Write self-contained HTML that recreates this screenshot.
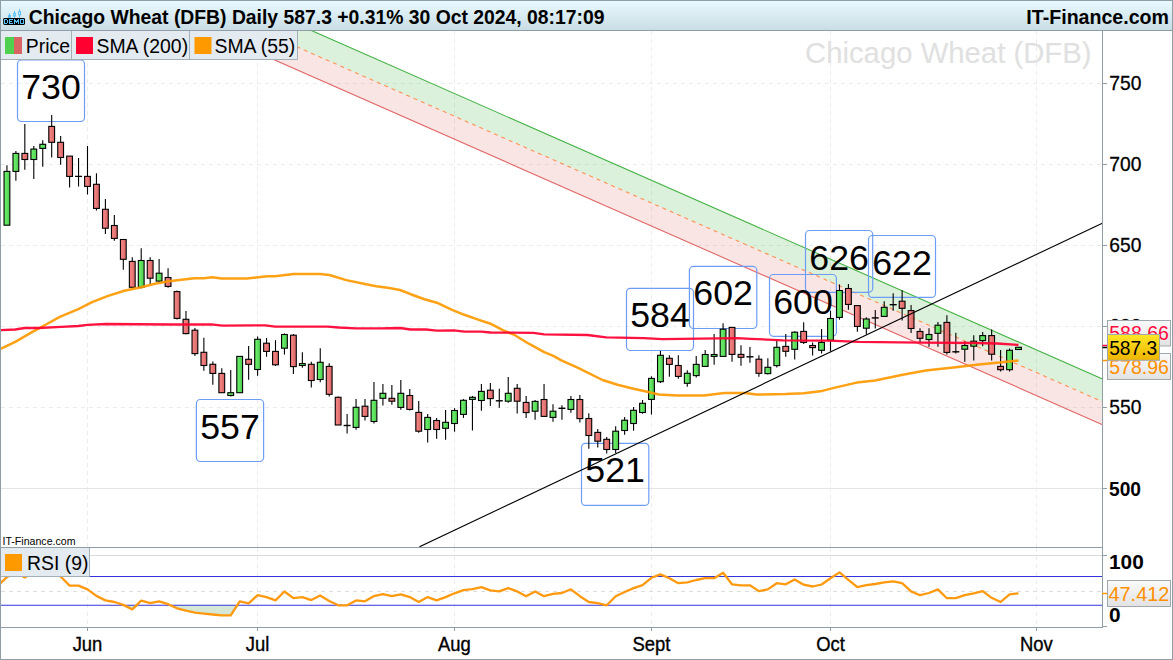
<!DOCTYPE html>
<html><head><meta charset="utf-8"><style>
html,body{margin:0;padding:0;background:#fff;width:1173px;height:660px;overflow:hidden}
svg{display:block}
text{font-family:"Liberation Sans",sans-serif}
</style></head><body>
<svg width="1173" height="660" viewBox="0 0 1173 660">
<defs>
<linearGradient id="hdr" x1="0" y1="0" x2="0" y2="1"><stop offset="0" stop-color="#e9fbff"/><stop offset="1" stop-color="#c9dce4"/></linearGradient>
<linearGradient id="gc" x1="0" y1="0" x2="1" y2="0"><stop offset="0" stop-color="#5ce05c"/><stop offset="0.3" stop-color="#68ec68"/><stop offset="1" stop-color="#4cc94c"/></linearGradient>
<linearGradient id="rc" x1="0" y1="0" x2="1" y2="0"><stop offset="0" stop-color="#e87272"/><stop offset="0.3" stop-color="#f08282"/><stop offset="1" stop-color="#d96262"/></linearGradient>
<linearGradient id="yel" x1="0" y1="0" x2="0" y2="1"><stop offset="0" stop-color="#ffe626"/><stop offset="1" stop-color="#eeb400"/></linearGradient>
<linearGradient id="gry" x1="0" y1="0" x2="0" y2="1"><stop offset="0" stop-color="#fafafa"/><stop offset="1" stop-color="#e2e2e2"/></linearGradient>
<clipPath id="cp"><rect x="1" y="31" width="1101.5" height="516"/></clipPath>
<clipPath id="cr"><rect x="1" y="548" width="1101.5" height="79"/></clipPath>
</defs>
<rect x="0" y="0" width="1173" height="660" fill="#fff"/>

<g stroke="#ececec" stroke-width="1" stroke-dasharray="4,4" fill="none">
<line x1="1" y1="83.5" x2="1102" y2="83.5"/>
<line x1="1" y1="164.5" x2="1102" y2="164.5"/>
<line x1="1" y1="245.5" x2="1102" y2="245.5"/>
<line x1="1" y1="326.5" x2="1102" y2="326.5"/>
<line x1="1" y1="407.5" x2="1102" y2="407.5"/>
<line x1="87.5" y1="31" x2="87.5" y2="547"/>
<line x1="87.5" y1="548" x2="87.5" y2="627"/>
<line x1="257.5" y1="31" x2="257.5" y2="547"/>
<line x1="257.5" y1="548" x2="257.5" y2="627"/>
<line x1="454.5" y1="31" x2="454.5" y2="547"/>
<line x1="454.5" y1="548" x2="454.5" y2="627"/>
<line x1="651.5" y1="31" x2="651.5" y2="547"/>
<line x1="651.5" y1="548" x2="651.5" y2="627"/>
<line x1="830.5" y1="31" x2="830.5" y2="547"/>
<line x1="830.5" y1="548" x2="830.5" y2="627"/>
<line x1="1036.5" y1="31" x2="1036.5" y2="547"/>
<line x1="1036.5" y1="548" x2="1036.5" y2="627"/>
</g>
<line x1="1" y1="488.5" x2="1102" y2="488.5" stroke="#e4e4e4" stroke-width="1"/>
<text x="805" y="63" font-size="29.3" fill="#e0e0e0">Chicago Wheat (DFB)</text>
<g clip-path="url(#cp)">
<polygon points="150,-40.6 1102.5,379.0 1102.5,401.7 150,-17.9" fill="#44b344" fill-opacity="0.19"/>
<polygon points="150,-17.9 1102.5,401.7 1102.5,424.7 150,5.1" fill="#e06060" fill-opacity="0.16"/>
<line x1="150" y1="-40.6" x2="1102.5" y2="379.0" stroke="#44b344" stroke-width="1.1"/>
<line x1="150" y1="-17.9" x2="1102.5" y2="401.7" stroke="#ff9050" stroke-width="1.1" stroke-dasharray="4,4"/>
<line x1="150" y1="5.1" x2="1102.5" y2="424.7" stroke="#e06868" stroke-width="1.1"/>
<rect x="17.5" y="60" width="67.0" height="61.5" rx="4" ry="4" fill="none" stroke="#6e9df5" stroke-width="1.2"/>
<rect x="196.4" y="399.5" width="67.2" height="62.0" rx="4" ry="4" fill="none" stroke="#6e9df5" stroke-width="1.2"/>
<rect x="581.5" y="443.3" width="67.3" height="62.1" rx="4" ry="4" fill="none" stroke="#6e9df5" stroke-width="1.2"/>
<rect x="626.5" y="288.3" width="67.0" height="62.2" rx="4" ry="4" fill="none" stroke="#6e9df5" stroke-width="1.2"/>
<rect x="689.4" y="266.4" width="67.4" height="62.1" rx="4" ry="4" fill="none" stroke="#6e9df5" stroke-width="1.2"/>
<rect x="769.5" y="274.5" width="66.9" height="61.8" rx="4" ry="4" fill="none" stroke="#6e9df5" stroke-width="1.2"/>
<rect x="805.5" y="230.5" width="67.2" height="61.8" rx="4" ry="4" fill="none" stroke="#6e9df5" stroke-width="1.2"/>
<rect x="868.5" y="235.5" width="67.0" height="61.9" rx="4" ry="4" fill="none" stroke="#6e9df5" stroke-width="1.2"/>
<text x="51.0" y="99.0" font-size="35.7" text-anchor="middle" fill="#000">730</text>
<text x="230.0" y="438.5" font-size="35.7" text-anchor="middle" fill="#000">557</text>
<text x="615.1" y="482.3" font-size="35.7" text-anchor="middle" fill="#000">521</text>
<text x="660.0" y="327.3" font-size="35.7" text-anchor="middle" fill="#000">584</text>
<text x="723.1" y="305.4" font-size="35.7" text-anchor="middle" fill="#000">602</text>
<text x="803.0" y="313.5" font-size="35.7" text-anchor="middle" fill="#000">600</text>
<text x="839.1" y="269.5" font-size="35.7" text-anchor="middle" fill="#000">626</text>
<text x="902.0" y="274.5" font-size="35.7" text-anchor="middle" fill="#000">622</text>
<g stroke="#000" stroke-width="1.1">
<line x1="6.93" y1="165.2" x2="6.93" y2="225.2"/>
<line x1="15.88" y1="151.1" x2="15.88" y2="180.7"/>
<line x1="24.83" y1="123.9" x2="24.83" y2="169.8"/>
<line x1="33.79" y1="146.1" x2="33.79" y2="178.9"/>
<line x1="42.74" y1="140.2" x2="42.74" y2="166.8"/>
<line x1="51.69" y1="115.0" x2="51.69" y2="157.5"/>
<line x1="60.64" y1="135.9" x2="60.64" y2="164.8"/>
<line x1="69.59" y1="156.1" x2="69.59" y2="187.5"/>
<line x1="78.55" y1="158.0" x2="78.55" y2="186.6"/>
<line x1="87.50" y1="146.1" x2="87.50" y2="194.5"/>
<line x1="96.45" y1="173.2" x2="96.45" y2="210.5"/>
<line x1="105.40" y1="199.1" x2="105.40" y2="233.9"/>
<line x1="114.35" y1="215.0" x2="114.35" y2="240.7"/>
<line x1="123.31" y1="239.5" x2="123.31" y2="269.8"/>
<line x1="132.26" y1="257.3" x2="132.26" y2="287.3"/>
<line x1="141.21" y1="248.2" x2="141.21" y2="288.4"/>
<line x1="150.16" y1="257.3" x2="150.16" y2="283.9"/>
<line x1="159.11" y1="259.1" x2="159.11" y2="282.7"/>
<line x1="168.07" y1="268.2" x2="168.07" y2="287.7"/>
<line x1="177.02" y1="290.5" x2="177.02" y2="319.5"/>
<line x1="185.97" y1="310.9" x2="185.97" y2="334.3"/>
<line x1="194.92" y1="328.0" x2="194.92" y2="355.9"/>
<line x1="203.87" y1="337.7" x2="203.87" y2="370.7"/>
<line x1="212.83" y1="361.4" x2="212.83" y2="384.8"/>
<line x1="221.78" y1="368.2" x2="221.78" y2="392.7"/>
<line x1="230.73" y1="370.0" x2="230.73" y2="396.4"/>
<line x1="239.68" y1="355.9" x2="239.68" y2="392.7"/>
<line x1="248.63" y1="346.1" x2="248.63" y2="379.8"/>
<line x1="257.59" y1="336.4" x2="257.59" y2="375.7"/>
<line x1="266.54" y1="338.0" x2="266.54" y2="356.8"/>
<line x1="275.49" y1="340.2" x2="275.49" y2="365.9"/>
<line x1="284.44" y1="333.6" x2="284.44" y2="354.5"/>
<line x1="293.39" y1="334.1" x2="293.39" y2="373.9"/>
<line x1="302.35" y1="352.3" x2="302.35" y2="367.7"/>
<line x1="311.30" y1="361.8" x2="311.30" y2="387.5"/>
<line x1="320.25" y1="348.2" x2="320.25" y2="382.3"/>
<line x1="329.20" y1="363.2" x2="329.20" y2="396.6"/>
<line x1="338.15" y1="396.6" x2="338.15" y2="425.0"/>
<line x1="347.11" y1="414.1" x2="347.11" y2="433.6"/>
<line x1="356.06" y1="399.1" x2="356.06" y2="429.7"/>
<line x1="365.01" y1="399.1" x2="365.01" y2="420.6"/>
<line x1="373.96" y1="382.0" x2="373.96" y2="423.6"/>
<line x1="382.91" y1="383.9" x2="382.91" y2="405.5"/>
<line x1="391.87" y1="385.0" x2="391.87" y2="404.7"/>
<line x1="400.82" y1="380.0" x2="400.82" y2="409.7"/>
<line x1="409.77" y1="389.1" x2="409.77" y2="410.5"/>
<line x1="418.72" y1="401.1" x2="418.72" y2="432.7"/>
<line x1="427.67" y1="414.1" x2="427.67" y2="442.6"/>
<line x1="436.63" y1="418.0" x2="436.63" y2="438.8"/>
<line x1="445.58" y1="410.0" x2="445.58" y2="439.8"/>
<line x1="454.53" y1="408.2" x2="454.53" y2="431.7"/>
<line x1="463.48" y1="399.1" x2="463.48" y2="417.9"/>
<line x1="472.43" y1="396.1" x2="472.43" y2="430.6"/>
<line x1="481.39" y1="383.9" x2="481.39" y2="410.8"/>
<line x1="490.34" y1="383.0" x2="490.34" y2="405.9"/>
<line x1="499.29" y1="388.8" x2="499.29" y2="407.7"/>
<line x1="508.24" y1="377.1" x2="508.24" y2="402.7"/>
<line x1="517.19" y1="383.9" x2="517.19" y2="413.6"/>
<line x1="526.15" y1="396.1" x2="526.15" y2="417.9"/>
<line x1="535.10" y1="400.0" x2="535.10" y2="419.7"/>
<line x1="544.05" y1="384.1" x2="544.05" y2="416.4"/>
<line x1="553.00" y1="404.2" x2="553.00" y2="421.8"/>
<line x1="561.95" y1="405.2" x2="561.95" y2="419.7"/>
<line x1="570.91" y1="396.1" x2="570.91" y2="412.7"/>
<line x1="579.86" y1="395.0" x2="579.86" y2="422.6"/>
<line x1="588.81" y1="413.2" x2="588.81" y2="448.8"/>
<line x1="597.76" y1="429.1" x2="597.76" y2="447.6"/>
<line x1="606.71" y1="437.1" x2="606.71" y2="453.6"/>
<line x1="615.67" y1="426.2" x2="615.67" y2="453.2"/>
<line x1="624.62" y1="417.1" x2="624.62" y2="434.7"/>
<line x1="633.57" y1="407.1" x2="633.57" y2="430.7"/>
<line x1="642.52" y1="400.0" x2="642.52" y2="413.7"/>
<line x1="651.47" y1="376.3" x2="651.47" y2="414.6"/>
<line x1="660.43" y1="351.1" x2="660.43" y2="382.9"/>
<line x1="669.38" y1="355.3" x2="669.38" y2="376.8"/>
<line x1="678.33" y1="355.2" x2="678.33" y2="378.8"/>
<line x1="687.28" y1="370.3" x2="687.28" y2="386.7"/>
<line x1="696.23" y1="356.1" x2="696.23" y2="377.6"/>
<line x1="705.19" y1="350.1" x2="705.19" y2="366.4"/>
<line x1="714.14" y1="333.9" x2="714.14" y2="364.7"/>
<line x1="723.09" y1="323.2" x2="723.09" y2="356.4"/>
<line x1="732.04" y1="327.1" x2="732.04" y2="361.8"/>
<line x1="740.99" y1="345.2" x2="740.99" y2="365.8"/>
<line x1="749.95" y1="347.1" x2="749.95" y2="362.7"/>
<line x1="758.90" y1="355.2" x2="758.90" y2="376.7"/>
<line x1="767.85" y1="358.2" x2="767.85" y2="374.4"/>
<line x1="776.80" y1="340.3" x2="776.80" y2="367.6"/>
<line x1="785.75" y1="334.0" x2="785.75" y2="356.7"/>
<line x1="794.71" y1="331.3" x2="794.71" y2="359.5"/>
<line x1="803.66" y1="322.3" x2="803.66" y2="343.9"/>
<line x1="812.61" y1="342.4" x2="812.61" y2="355.6"/>
<line x1="821.56" y1="329.1" x2="821.56" y2="353.6"/>
<line x1="830.51" y1="310.6" x2="830.51" y2="351.4"/>
<line x1="839.47" y1="284.4" x2="839.47" y2="319.7"/>
<line x1="848.42" y1="284.1" x2="848.42" y2="309.7"/>
<line x1="857.37" y1="305.2" x2="857.37" y2="331.7"/>
<line x1="866.32" y1="317.2" x2="866.32" y2="334.6"/>
<line x1="875.27" y1="310.1" x2="875.27" y2="328.5"/>
<line x1="884.23" y1="301.2" x2="884.23" y2="316.4"/>
<line x1="893.18" y1="293.2" x2="893.18" y2="310.8"/>
<line x1="902.13" y1="290.3" x2="902.13" y2="320.6"/>
<line x1="911.08" y1="305.0" x2="911.08" y2="333.0"/>
<line x1="920.03" y1="328.2" x2="920.03" y2="342.4"/>
<line x1="928.99" y1="328.2" x2="928.99" y2="346.7"/>
<line x1="937.94" y1="322.1" x2="937.94" y2="346.7"/>
<line x1="946.89" y1="315.2" x2="946.89" y2="354.5"/>
<line x1="955.84" y1="332.8" x2="955.84" y2="353.5"/>
<line x1="964.79" y1="341.2" x2="964.79" y2="361.8"/>
<line x1="973.75" y1="335.2" x2="973.75" y2="360.6"/>
<line x1="982.70" y1="332.1" x2="982.70" y2="346.2"/>
<line x1="991.65" y1="329.5" x2="991.65" y2="360.6"/>
<line x1="1000.60" y1="350.0" x2="1000.60" y2="371.5"/>
<line x1="1009.55" y1="348.5" x2="1009.55" y2="371.5"/>
<line x1="1018.51" y1="347.3" x2="1018.51" y2="349.5"/>
</g>
<rect x="4.03" y="171.4" width="5.8" height="53.8" fill="url(#gc)" stroke="#000" stroke-width="1.1"/>
<rect x="12.98" y="153.4" width="5.8" height="18.0" fill="url(#gc)" stroke="#000" stroke-width="1.1"/>
<rect x="21.93" y="153.4" width="5.8" height="6.1" fill="url(#rc)" stroke="#000" stroke-width="1.1"/>
<rect x="30.89" y="149.1" width="5.8" height="10.4" fill="url(#gc)" stroke="#000" stroke-width="1.1"/>
<rect x="39.84" y="144.3" width="5.8" height="4.1" fill="url(#gc)" stroke="#000" stroke-width="1.1"/>
<rect x="48.79" y="126.4" width="5.8" height="15.9" fill="url(#rc)" stroke="#000" stroke-width="1.1"/>
<rect x="57.74" y="142.3" width="5.8" height="15.2" fill="url(#rc)" stroke="#000" stroke-width="1.1"/>
<rect x="66.69" y="156.1" width="5.8" height="20.3" fill="url(#rc)" stroke="#000" stroke-width="1.1"/>
<line x1="75.05" y1="176.4" x2="82.05" y2="176.4" stroke="#000" stroke-width="1.4"/>
<rect x="84.60" y="176.4" width="5.8" height="10.0" fill="url(#rc)" stroke="#000" stroke-width="1.1"/>
<rect x="93.55" y="184.3" width="5.8" height="24.1" fill="url(#rc)" stroke="#000" stroke-width="1.1"/>
<rect x="102.50" y="209.3" width="5.8" height="18.9" fill="url(#rc)" stroke="#000" stroke-width="1.1"/>
<rect x="111.45" y="225.5" width="5.8" height="12.9" fill="url(#rc)" stroke="#000" stroke-width="1.1"/>
<rect x="120.41" y="239.5" width="5.8" height="19.8" fill="url(#rc)" stroke="#000" stroke-width="1.1"/>
<rect x="129.36" y="261.4" width="5.8" height="25.9" fill="url(#rc)" stroke="#000" stroke-width="1.1"/>
<rect x="138.31" y="260.5" width="5.8" height="26.8" fill="url(#gc)" stroke="#000" stroke-width="1.1"/>
<rect x="147.26" y="260.5" width="5.8" height="17.7" fill="url(#rc)" stroke="#000" stroke-width="1.1"/>
<rect x="156.21" y="273.2" width="5.8" height="7.9" fill="url(#gc)" stroke="#000" stroke-width="1.1"/>
<rect x="165.17" y="277.5" width="5.8" height="8.9" fill="url(#rc)" stroke="#000" stroke-width="1.1"/>
<rect x="174.12" y="291.6" width="5.8" height="26.8" fill="url(#rc)" stroke="#000" stroke-width="1.1"/>
<rect x="183.07" y="319.3" width="5.8" height="14.3" fill="url(#rc)" stroke="#000" stroke-width="1.1"/>
<rect x="192.02" y="330.2" width="5.8" height="23.4" fill="url(#rc)" stroke="#000" stroke-width="1.1"/>
<rect x="200.97" y="352.3" width="5.8" height="13.2" fill="url(#rc)" stroke="#000" stroke-width="1.1"/>
<rect x="209.93" y="364.3" width="5.8" height="9.1" fill="url(#rc)" stroke="#000" stroke-width="1.1"/>
<rect x="218.88" y="373.4" width="5.8" height="19.3" fill="url(#rc)" stroke="#000" stroke-width="1.1"/>
<rect x="227.83" y="392.7" width="5.8" height="2.8" fill="url(#gc)" stroke="#000" stroke-width="1.1"/>
<rect x="236.78" y="356.4" width="5.8" height="36.3" fill="url(#gc)" stroke="#000" stroke-width="1.1"/>
<rect x="245.73" y="359.3" width="5.8" height="5.0" fill="url(#rc)" stroke="#000" stroke-width="1.1"/>
<rect x="254.69" y="339.3" width="5.8" height="30.2" fill="url(#gc)" stroke="#000" stroke-width="1.1"/>
<rect x="263.64" y="343.2" width="5.8" height="8.2" fill="url(#rc)" stroke="#000" stroke-width="1.1"/>
<rect x="272.59" y="351.4" width="5.8" height="13.4" fill="url(#rc)" stroke="#000" stroke-width="1.1"/>
<rect x="281.54" y="334.5" width="5.8" height="13.7" fill="url(#gc)" stroke="#000" stroke-width="1.1"/>
<rect x="290.49" y="335.2" width="5.8" height="31.4" fill="url(#rc)" stroke="#000" stroke-width="1.1"/>
<rect x="299.45" y="363.6" width="5.8" height="1.9" fill="url(#gc)" stroke="#000" stroke-width="1.1"/>
<rect x="308.40" y="364.3" width="5.8" height="16.2" fill="url(#rc)" stroke="#000" stroke-width="1.1"/>
<rect x="317.35" y="362.3" width="5.8" height="17.2" fill="url(#gc)" stroke="#000" stroke-width="1.1"/>
<rect x="326.30" y="366.4" width="5.8" height="27.9" fill="url(#rc)" stroke="#000" stroke-width="1.1"/>
<rect x="335.25" y="397.3" width="5.8" height="27.7" fill="url(#rc)" stroke="#000" stroke-width="1.1"/>
<line x1="343.61" y1="425.5" x2="350.61" y2="425.5" stroke="#000" stroke-width="1.4"/>
<rect x="353.16" y="407.3" width="5.8" height="20.1" fill="url(#gc)" stroke="#000" stroke-width="1.1"/>
<rect x="362.11" y="406.2" width="5.8" height="10.2" fill="url(#rc)" stroke="#000" stroke-width="1.1"/>
<rect x="371.06" y="400.3" width="5.8" height="21.2" fill="url(#gc)" stroke="#000" stroke-width="1.1"/>
<rect x="380.01" y="393.3" width="5.8" height="5.0" fill="url(#gc)" stroke="#000" stroke-width="1.1"/>
<rect x="388.97" y="398.3" width="5.8" height="2.9" fill="url(#rc)" stroke="#000" stroke-width="1.1"/>
<rect x="397.92" y="393.3" width="5.8" height="14.1" fill="url(#gc)" stroke="#000" stroke-width="1.1"/>
<rect x="406.87" y="395.5" width="5.8" height="13.9" fill="url(#rc)" stroke="#000" stroke-width="1.1"/>
<rect x="415.82" y="412.4" width="5.8" height="18.8" fill="url(#rc)" stroke="#000" stroke-width="1.1"/>
<rect x="424.77" y="417.4" width="5.8" height="12.1" fill="url(#gc)" stroke="#000" stroke-width="1.1"/>
<rect x="433.73" y="420.5" width="5.8" height="9.0" fill="url(#rc)" stroke="#000" stroke-width="1.1"/>
<rect x="442.68" y="422.3" width="5.8" height="6.0" fill="url(#gc)" stroke="#000" stroke-width="1.1"/>
<rect x="451.63" y="410.5" width="5.8" height="13.0" fill="url(#gc)" stroke="#000" stroke-width="1.1"/>
<rect x="460.58" y="400.3" width="5.8" height="14.1" fill="url(#gc)" stroke="#000" stroke-width="1.1"/>
<rect x="469.53" y="397.3" width="5.8" height="2.1" fill="url(#gc)" stroke="#000" stroke-width="1.1"/>
<rect x="478.49" y="391.4" width="5.8" height="9.1" fill="url(#gc)" stroke="#000" stroke-width="1.1"/>
<rect x="487.44" y="390.2" width="5.8" height="8.4" fill="url(#rc)" stroke="#000" stroke-width="1.1"/>
<line x1="495.79" y1="400.8" x2="502.79" y2="400.8" stroke="#000" stroke-width="1.4"/>
<rect x="505.34" y="393.3" width="5.8" height="7.9" fill="url(#gc)" stroke="#000" stroke-width="1.1"/>
<rect x="514.29" y="388.3" width="5.8" height="12.9" fill="url(#rc)" stroke="#000" stroke-width="1.1"/>
<rect x="523.25" y="402.4" width="5.8" height="10.2" fill="url(#rc)" stroke="#000" stroke-width="1.1"/>
<rect x="532.20" y="401.4" width="5.8" height="9.8" fill="url(#gc)" stroke="#000" stroke-width="1.1"/>
<rect x="541.15" y="399.5" width="5.8" height="16.9" fill="url(#rc)" stroke="#000" stroke-width="1.1"/>
<rect x="550.10" y="411.2" width="5.8" height="6.2" fill="url(#gc)" stroke="#000" stroke-width="1.1"/>
<line x1="558.45" y1="408.3" x2="565.45" y2="408.3" stroke="#000" stroke-width="1.4"/>
<rect x="568.01" y="399.5" width="5.8" height="9.9" fill="url(#gc)" stroke="#000" stroke-width="1.1"/>
<rect x="576.96" y="399.5" width="5.8" height="19.1" fill="url(#rc)" stroke="#000" stroke-width="1.1"/>
<rect x="585.91" y="418.5" width="5.8" height="17.0" fill="url(#rc)" stroke="#000" stroke-width="1.1"/>
<rect x="594.86" y="432.4" width="5.8" height="8.8" fill="url(#rc)" stroke="#000" stroke-width="1.1"/>
<rect x="603.81" y="439.3" width="5.8" height="10.2" fill="url(#rc)" stroke="#000" stroke-width="1.1"/>
<rect x="612.77" y="431.2" width="5.8" height="18.3" fill="url(#gc)" stroke="#000" stroke-width="1.1"/>
<rect x="621.72" y="420.2" width="5.8" height="10.3" fill="url(#gc)" stroke="#000" stroke-width="1.1"/>
<rect x="630.67" y="410.3" width="5.8" height="13.2" fill="url(#gc)" stroke="#000" stroke-width="1.1"/>
<rect x="639.62" y="403.3" width="5.8" height="9.2" fill="url(#gc)" stroke="#000" stroke-width="1.1"/>
<rect x="648.57" y="378.4" width="5.8" height="21.0" fill="url(#gc)" stroke="#000" stroke-width="1.1"/>
<rect x="657.53" y="355.3" width="5.8" height="26.4" fill="url(#gc)" stroke="#000" stroke-width="1.1"/>
<rect x="666.48" y="358.3" width="5.8" height="6.1" fill="url(#rc)" stroke="#000" stroke-width="1.1"/>
<rect x="675.43" y="365.5" width="5.8" height="10.9" fill="url(#rc)" stroke="#000" stroke-width="1.1"/>
<rect x="684.38" y="373.3" width="5.8" height="10.0" fill="url(#gc)" stroke="#000" stroke-width="1.1"/>
<rect x="693.33" y="364.4" width="5.8" height="11.2" fill="url(#gc)" stroke="#000" stroke-width="1.1"/>
<rect x="702.29" y="354.5" width="5.8" height="11.9" fill="url(#gc)" stroke="#000" stroke-width="1.1"/>
<rect x="711.24" y="354.5" width="5.8" height="1.9" fill="url(#gc)" stroke="#000" stroke-width="1.1"/>
<rect x="720.19" y="329.2" width="5.8" height="27.2" fill="url(#gc)" stroke="#000" stroke-width="1.1"/>
<rect x="729.14" y="327.4" width="5.8" height="27.0" fill="url(#rc)" stroke="#000" stroke-width="1.1"/>
<rect x="738.09" y="354.4" width="5.8" height="2.9" fill="url(#rc)" stroke="#000" stroke-width="1.1"/>
<line x1="746.45" y1="356.8" x2="753.45" y2="356.8" stroke="#000" stroke-width="1.4"/>
<rect x="756.00" y="359.2" width="5.8" height="14.1" fill="url(#rc)" stroke="#000" stroke-width="1.1"/>
<rect x="764.95" y="367.3" width="5.8" height="6.3" fill="url(#gc)" stroke="#000" stroke-width="1.1"/>
<rect x="773.90" y="347.3" width="5.8" height="18.3" fill="url(#gc)" stroke="#000" stroke-width="1.1"/>
<rect x="782.85" y="346.4" width="5.8" height="4.9" fill="url(#rc)" stroke="#000" stroke-width="1.1"/>
<rect x="791.81" y="332.2" width="5.8" height="17.1" fill="url(#gc)" stroke="#000" stroke-width="1.1"/>
<rect x="800.76" y="331.4" width="5.8" height="11.0" fill="url(#rc)" stroke="#000" stroke-width="1.1"/>
<rect x="809.71" y="345.5" width="5.8" height="2.1" fill="url(#rc)" stroke="#000" stroke-width="1.1"/>
<rect x="818.66" y="342.4" width="5.8" height="7.9" fill="url(#gc)" stroke="#000" stroke-width="1.1"/>
<rect x="827.61" y="318.5" width="5.8" height="21.7" fill="url(#gc)" stroke="#000" stroke-width="1.1"/>
<rect x="836.57" y="290.5" width="5.8" height="26.9" fill="url(#gc)" stroke="#000" stroke-width="1.1"/>
<rect x="845.52" y="288.5" width="5.8" height="15.9" fill="url(#rc)" stroke="#000" stroke-width="1.1"/>
<rect x="854.47" y="305.6" width="5.8" height="20.8" fill="url(#rc)" stroke="#000" stroke-width="1.1"/>
<rect x="863.42" y="319.0" width="5.8" height="9.2" fill="url(#gc)" stroke="#000" stroke-width="1.1"/>
<line x1="871.77" y1="317.9" x2="878.77" y2="317.9" stroke="#000" stroke-width="1.4"/>
<rect x="881.33" y="307.3" width="5.8" height="9.1" fill="url(#gc)" stroke="#000" stroke-width="1.1"/>
<line x1="889.68" y1="304.7" x2="896.68" y2="304.7" stroke="#000" stroke-width="1.4"/>
<rect x="899.23" y="301.2" width="5.8" height="7.1" fill="url(#rc)" stroke="#000" stroke-width="1.1"/>
<rect x="908.18" y="310.6" width="5.8" height="17.9" fill="url(#rc)" stroke="#000" stroke-width="1.1"/>
<rect x="917.13" y="331.5" width="5.8" height="6.8" fill="url(#rc)" stroke="#000" stroke-width="1.1"/>
<rect x="926.09" y="334.5" width="5.8" height="5.0" fill="url(#gc)" stroke="#000" stroke-width="1.1"/>
<rect x="935.04" y="325.2" width="5.8" height="8.1" fill="url(#gc)" stroke="#000" stroke-width="1.1"/>
<rect x="943.99" y="322.4" width="5.8" height="30.0" fill="url(#rc)" stroke="#000" stroke-width="1.1"/>
<line x1="952.34" y1="351.8" x2="959.34" y2="351.8" stroke="#000" stroke-width="1.4"/>
<rect x="961.89" y="345.5" width="5.8" height="3.7" fill="url(#gc)" stroke="#000" stroke-width="1.1"/>
<rect x="970.85" y="341.2" width="5.8" height="5.0" fill="url(#gc)" stroke="#000" stroke-width="1.1"/>
<rect x="979.80" y="335.6" width="5.8" height="5.0" fill="url(#gc)" stroke="#000" stroke-width="1.1"/>
<rect x="988.75" y="335.6" width="5.8" height="18.6" fill="url(#rc)" stroke="#000" stroke-width="1.1"/>
<rect x="997.70" y="366.4" width="5.8" height="3.3" fill="url(#rc)" stroke="#000" stroke-width="1.1"/>
<rect x="1006.65" y="350.3" width="5.8" height="19.4" fill="url(#gc)" stroke="#000" stroke-width="1.1"/>
<rect x="1015.61" y="347.3" width="5.8" height="2.2" fill="url(#gc)" stroke="#000" stroke-width="1.1"/>
<polyline points="0.0,349.0 15.3,341.8 30.7,332.9 46.0,324.5 59.8,316.8 78.3,309.1 92.1,302.2 107.4,296.1 124.3,290.7 141.2,287.2 155.0,283.8 168.8,281.2 194.4,278.2 203.8,278.2 212.2,277.3 221.6,278.4 246.9,278.4 267.5,276.3 275.0,276.3 293.8,274.1 320.0,274.1 329.4,275.0 346.3,280.1 365.0,284.0 376.3,286.3 389.2,288.1 400.0,290.0 410.7,294.2 424.5,299.2 436.8,302.7 452.1,309.9 464.4,314.8 476.7,319.1 490.5,323.7 502.8,330.2 515.0,335.2 528.8,343.7 544.2,352.1 553.4,355.9 561.3,360.3 578.1,367.8 602.5,380.0 617.5,384.7 632.5,388.5 649.4,392.2 658.8,394.5 677.5,395.4 703.8,395.4 724.4,393.1 745.0,393.1 756.3,394.5 785.3,394.1 803.7,393.2 822.2,390.9 836.0,387.4 856.7,382.6 875.1,380.5 902.7,374.8 925.7,370.6 955.7,367.2 978.7,364.4 999.4,362.6 1018.5,360.5" fill="none" stroke="#ff9900" stroke-opacity="0.92" stroke-width="2.5" stroke-linejoin="round"/>
<polyline points="0.0,330.2 15.3,329.5 24.6,328.0 38.4,328.0 61.4,326.8 78.3,326.0 87.5,324.9 105.9,324.0 170.0,324.5 211.3,324.3 222.5,325.6 265.6,325.3 275.0,326.6 327.5,326.6 338.8,327.5 355.7,328.4 380.0,328.3 400.0,328.0 410.7,329.5 426.0,329.5 436.8,330.6 453.7,330.3 464.4,331.7 481.3,331.7 490.5,332.5 512.0,332.6 533.4,332.9 544.2,334.4 587.5,335.0 606.3,337.3 643.8,338.2 662.5,339.1 737.5,338.2 750.7,338.8 783.0,340.3 829.1,340.7 859.0,341.9 921.1,342.6 974.1,343.0 997.1,343.5 1018.5,345.0" fill="none" stroke="#ff0030" stroke-opacity="0.93" stroke-width="2.3" stroke-linejoin="round"/>
<line x1="419.5" y1="546.8" x2="1102.3" y2="223.2" stroke="#000" stroke-width="1.1"/>
</g>
<text x="2.5" y="544.8" font-size="10.6" fill="#000">IT-Finance.com</text>
<line x1="1" y1="555.5" x2="1102" y2="555.5" stroke="#dcdcdc" stroke-width="1"/>
<line x1="1" y1="591.5" x2="1102" y2="591.5" stroke="#dedede" stroke-width="1" stroke-dasharray="4,4"/>
<g clip-path="url(#cr)">
<polygon points="0,605.3 6.9,605.3 15.9,605.3 24.8,605.3 33.8,605.3 42.7,605.3 51.7,605.3 60.6,605.3 69.6,605.3 78.5,605.3 87.5,605.3 96.4,605.3 105.4,605.3 114.4,605.3 123.3,605.3 132.3,609.4 141.2,605.3 150.2,605.3 159.1,605.3 168.1,605.3 177.0,608.3 186.0,610.7 194.9,612.6 203.9,613.6 212.8,614.5 221.8,615.3 230.7,615.3 239.7,605.3 248.6,605.3 257.6,605.3 266.5,605.3 275.5,605.3 284.4,605.3 293.4,605.3 302.3,605.3 311.3,605.3 320.2,605.3 329.2,605.3 338.2,605.3 347.1,605.3 356.1,605.3 365.0,605.3 374.0,605.3 382.9,605.3 391.9,605.3 400.8,605.3 409.8,605.3 418.7,605.3 427.7,605.3 436.6,605.3 445.6,605.3 454.5,605.3 463.5,605.3 472.4,605.3 481.4,605.3 490.3,605.3 499.3,605.3 508.2,605.3 517.2,605.3 526.1,605.3 535.1,605.3 544.0,605.3 553.0,605.3 562.0,605.3 570.9,605.3 579.9,605.3 588.8,605.3 597.8,605.3 606.7,605.3 615.7,605.3 624.6,605.3 633.6,605.3 642.5,605.3 651.5,605.3 660.4,605.3 669.4,605.3 678.3,605.3 687.3,605.3 696.2,605.3 705.2,605.3 714.1,605.3 723.1,605.3 732.0,605.3 741.0,605.3 749.9,605.3 758.9,605.3 767.8,605.3 776.8,605.3 785.8,605.3 794.7,605.3 803.7,605.3 812.6,605.3 821.6,605.3 830.5,605.3 839.5,605.3 848.4,605.3 857.4,605.3 866.3,605.3 875.3,605.3 884.2,605.3 893.2,605.3 902.1,605.3 911.1,605.3 920.0,605.3 929.0,605.3 937.9,605.3 946.9,605.3 955.8,605.3 964.8,605.3 973.7,605.3 982.7,605.3 991.6,605.3 1000.6,605.3 1009.6,605.3 1018.5,605.3 1018.5,605.3" fill="#d5e7d5"/>
<line x1="1" y1="576.5" x2="1102" y2="576.5" stroke="#3434dc" stroke-width="1.1"/>
<line x1="1" y1="605.3" x2="1102" y2="605.3" stroke="#3434dc" stroke-width="1.1"/>
<polyline points="0.0,583.5 6.9,577.2 15.9,572.0 24.8,577.5 33.8,571.0 42.7,569.0 51.7,571.0 60.6,576.5 69.6,585.6 78.5,585.6 87.5,589.4 96.4,595.9 105.4,600.4 114.4,602.0 123.3,604.9 132.3,609.4 141.2,600.6 150.2,603.2 159.1,601.3 168.1,604.2 177.0,608.3 186.0,610.7 194.9,612.6 203.9,613.6 212.8,614.5 221.8,615.3 230.7,615.3 239.7,601.4 248.6,603.3 257.6,595.2 266.5,597.1 275.5,600.4 284.4,591.5 293.4,598.2 302.3,597.1 311.3,600.1 320.2,595.5 329.2,601.0 338.2,605.3 347.1,605.3 356.1,600.4 365.0,601.3 374.0,596.1 382.9,594.2 391.9,596.2 400.8,594.3 409.8,597.1 418.7,602.0 427.7,597.1 436.6,600.4 445.6,597.1 454.5,593.3 463.5,590.1 472.4,589.2 481.4,587.1 490.3,590.3 499.3,591.4 508.2,588.1 517.2,591.4 526.1,596.2 535.1,591.4 544.0,596.2 553.0,593.9 562.0,593.0 570.9,589.3 579.9,596.2 588.8,602.0 597.8,603.2 606.7,605.3 615.7,596.2 624.6,592.0 633.6,588.1 642.5,585.2 651.5,577.8 660.4,574.4 669.4,578.2 678.3,583.2 687.3,582.3 696.2,580.0 705.2,578.2 714.1,578.2 723.1,572.7 732.0,584.3 741.0,585.3 749.9,585.3 758.9,591.1 767.8,589.4 776.8,583.2 785.8,584.3 794.7,579.5 803.7,584.7 812.6,586.5 821.6,584.5 830.5,578.2 839.5,572.4 848.4,579.8 857.4,587.2 866.3,585.2 875.3,584.0 884.2,582.3 893.2,581.3 902.1,583.2 911.1,591.4 920.0,595.2 929.0,593.0 937.9,589.4 946.9,598.2 955.8,598.2 964.8,595.2 973.7,593.3 982.7,591.1 991.6,597.8 1000.6,602.0 1009.6,594.3 1018.5,593.3" fill="none" stroke="#ff9a10" stroke-width="2.3" stroke-linejoin="round"/>
</g>
<rect x="1" y="31" width="296.5" height="28" fill="#e3eaf0"/>
<path d="M297.5,31 V59.5 H1" fill="none" stroke="#a3b0b8" stroke-width="1"/>
<line x1="71.5" y1="31" x2="71.5" y2="59" stroke="#a3b0b8"/>
<line x1="189.5" y1="31" x2="189.5" y2="59" stroke="#a3b0b8"/>
<rect x="5" y="37" width="9" height="17" fill="#4fd04f"/><rect x="14" y="37" width="8" height="17" fill="#d96464"/>
<rect x="76" y="37" width="17" height="17" fill="#ff0030"/>
<rect x="194.5" y="37" width="17" height="17" fill="#ff9900"/>
<text x="25.8" y="53" font-size="19.4">Price</text>
<text x="96.5" y="53" font-size="19.4">SMA (200)</text>
<text x="214.5" y="53" font-size="19.4">SMA (55)</text>
<rect x="1" y="548" width="88" height="28" fill="#e3eaf0"/>
<path d="M89.5,548 V576.5 H1" fill="none" stroke="#a3b0b8" stroke-width="1"/>
<rect x="5" y="554" width="17" height="17" fill="#ff9900"/>
<text x="27" y="570" font-size="19.4">RSI (9)</text>
<line x1="1" y1="547.5" x2="1102" y2="547.5" stroke="#8f9ea6" stroke-width="1"/>
<line x1="1" y1="627.5" x2="1102" y2="627.5" stroke="#8f9ea6" stroke-width="1"/>
<line x1="1102.5" y1="31" x2="1102.5" y2="628" stroke="#8f9ea6" stroke-width="1"/>
<rect x="0" y="0" width="1173" height="31" fill="url(#hdr)"/>
<line x1="0" y1="0.5" x2="1173" y2="0.5" stroke="#8f9ea6"/>
<line x1="0" y1="30.5" x2="1173" y2="30.5" stroke="#8f9ea6"/>
<text x="28.8" y="23.5" font-size="19.35" font-weight="bold">Chicago Wheat (DFB) Daily 587.3 +0.31% 30 Oct 2024, 08:17:09</text>
<text x="1169" y="23.5" font-size="19.6" font-weight="bold" text-anchor="end">IT-Finance.com</text>
<rect x="3.2" y="17.9" width="21.8" height="7" rx="1.4" fill="#000"/>
<g stroke="#5abff5" stroke-width="1" fill="none" shape-rendering="crispEdges"><path d="M4.5,19.5 H6.5 L7.5,20.5 V22.5 L6.5,23.5 H4.5 Z"/><path d="M12.5,19.5 H9.5 V23.5 H12.5 M9.5,21.5 H12"/><path d="M14.5,24 V19.5 M18.5,24 V19.5 M14.5,19.5 L16.5,22 L18.5,19.5"/><path d="M20.5,19.5 H23.5 V23.5 H20.5 Z"/></g>
<g stroke="#5abff5" stroke-width="1" fill="none"><line x1="9.5" y1="13.1" x2="9.5" y2="17.9"/><rect x="8.1" y="15" width="2.8" height="2.9" fill="#5abff5" stroke="none"/><line x1="14.5" y1="10.9" x2="14.5" y2="13.4"/><line x1="14.5" y1="15.9" x2="14.5" y2="17.9"/><rect x="13.6" y="13.4" width="1.8" height="2.5"/><line x1="19.6" y1="9" x2="19.6" y2="11.6"/><line x1="19.6" y1="14.8" x2="19.6" y2="17.9"/><rect x="18.6" y="11.6" width="2" height="3.2"/></g>
<g stroke="#8f9ea6" stroke-width="1">
<line x1="1102" y1="83.5" x2="1107" y2="83.5"/>
<line x1="1102" y1="164.5" x2="1107" y2="164.5"/>
<line x1="1102" y1="245.5" x2="1107" y2="245.5"/>
<line x1="1102" y1="326.5" x2="1107" y2="326.5"/>
<line x1="1102" y1="407.5" x2="1107" y2="407.5"/>
<line x1="1102" y1="488.5" x2="1107" y2="488.5"/>
<line x1="1102" y1="555.5" x2="1107" y2="555.5"/>
<line x1="1102" y1="626.5" x2="1107" y2="626.5"/>
<line x1="87.5" y1="627" x2="87.5" y2="631"/>
<line x1="257.5" y1="627" x2="257.5" y2="631"/>
<line x1="454.5" y1="627" x2="454.5" y2="631"/>
<line x1="651.5" y1="627" x2="651.5" y2="631"/>
<line x1="830.5" y1="627" x2="830.5" y2="631"/>
<line x1="1036.5" y1="627" x2="1036.5" y2="631"/>
</g>
<text x="1109.3" y="90.1" font-size="20.2" textLength="32.12" lengthAdjust="spacingAndGlyphs" stroke="#000" stroke-width="0.3">750</text>
<text x="1109.3" y="171.1" font-size="20.2" textLength="32.12" lengthAdjust="spacingAndGlyphs" stroke="#000" stroke-width="0.3">700</text>
<text x="1109.3" y="252.1" font-size="20.2" textLength="32.12" lengthAdjust="spacingAndGlyphs" stroke="#000" stroke-width="0.3">650</text>
<text x="1109.3" y="333.1" font-size="20.2" textLength="32.12" lengthAdjust="spacingAndGlyphs" stroke="#000" stroke-width="0.3">600</text>
<text x="1109.3" y="414.1" font-size="20.2" textLength="32.12" lengthAdjust="spacingAndGlyphs" stroke="#000" stroke-width="0.3">550</text>
<text x="1109" y="495.6" font-size="20" font-weight="bold" textLength="32.04" lengthAdjust="spacingAndGlyphs">500</text>
<text x="1109" y="568.8" font-size="20.8" font-weight="bold">100</text>
<text x="1109" y="621.9" font-size="20.8" font-weight="bold">0</text>
<text x="72.64" y="651" font-size="19.4" textLength="29.72" lengthAdjust="spacingAndGlyphs" stroke="#000" stroke-width="0.35">Jun</text>
<text x="245.72" y="651" font-size="19.4" textLength="23.56" lengthAdjust="spacingAndGlyphs" stroke="#000" stroke-width="0.35">Jul</text>
<text x="438.00" y="651" font-size="19.4" textLength="32.79" lengthAdjust="spacingAndGlyphs" stroke="#000" stroke-width="0.35">Aug</text>
<text x="632.44" y="651" font-size="19.4" textLength="37.91" lengthAdjust="spacingAndGlyphs" stroke="#000" stroke-width="0.35">Sept</text>
<text x="816.16" y="651" font-size="19.4" textLength="28.67" lengthAdjust="spacingAndGlyphs" stroke="#000" stroke-width="0.35">Oct</text>
<text x="1020.01" y="651" font-size="19.4" textLength="32.78" lengthAdjust="spacingAndGlyphs" stroke="#000" stroke-width="0.35">Nov</text>
<line x1="1102.5" y1="345.5" x2="1107" y2="345.5" stroke="#ff0a46" stroke-width="1.5"/>
<line x1="1102.5" y1="347.5" x2="1107" y2="347.5" stroke="#000" stroke-width="1.5"/>
<line x1="1102.5" y1="360.5" x2="1107" y2="360.5" stroke="#ff9900" stroke-width="1.5"/>
<line x1="1102" y1="593.5" x2="1107" y2="593.5" stroke="#ff9900" stroke-width="1.5"/>
<rect x="1107.5" y="320.5" width="63" height="25.5" fill="url(#gry)" stroke="#a0a8ae"/>
<text x="1109.2" y="340" font-size="19.9" fill="#ff0a3c" textLength="59.65" lengthAdjust="spacingAndGlyphs">588.66</text>
<rect x="1107.5" y="353.5" width="63" height="26" fill="url(#gry)" stroke="#a0a8ae"/>
<text x="1109.2" y="373.8" font-size="19.9" fill="#ff9000" textLength="59.65" lengthAdjust="spacingAndGlyphs">578.96</text>
<rect x="1107.5" y="334.5" width="52" height="25.8" fill="url(#yel)" stroke="#a0a8ae"/>
<text x="1109.2" y="355" font-size="19.9" fill="#000" textLength="48.06" lengthAdjust="spacingAndGlyphs">587.3</text>
<rect x="1107.5" y="580.5" width="63" height="26" fill="url(#gry)" stroke="#a0a8ae"/>
<text x="1108.5" y="601.3" font-size="19.9" fill="#ff9000">47.412</text>
<rect x="0.5" y="0.5" width="1172" height="659" fill="none" stroke="#8f9ea6"/>
</svg></body></html>
